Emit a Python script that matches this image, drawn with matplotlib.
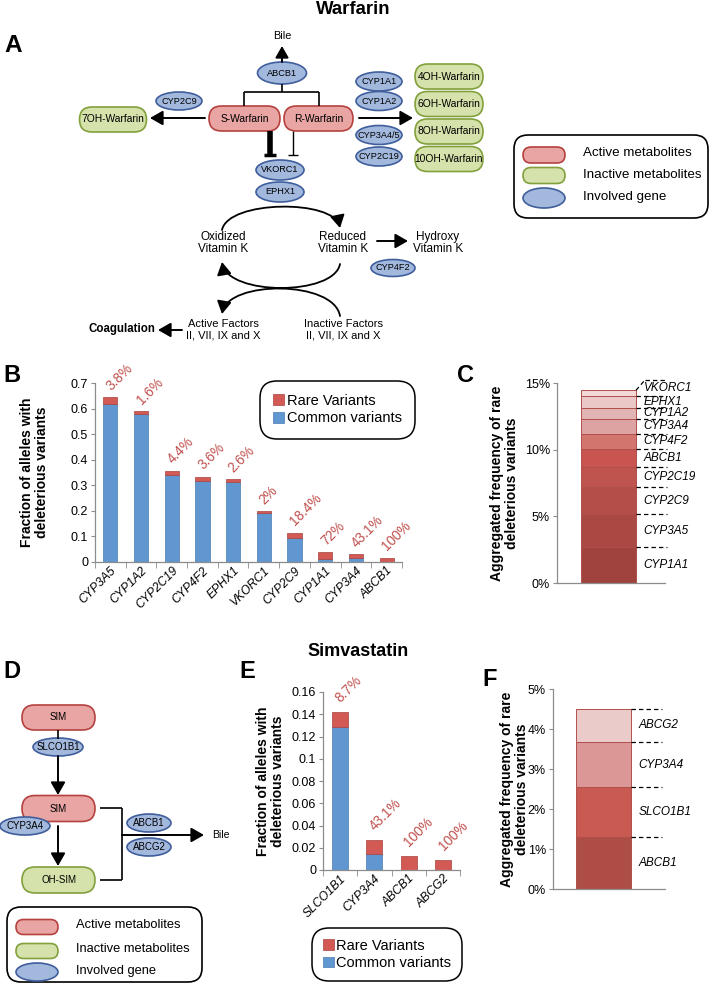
import matplotlib
matplotlib.use("Agg")
import matplotlib.pyplot as plt
from matplotlib import font_manager
from matplotlib.patches import FancyBboxPatch, Ellipse, FancyArrowPatch, Patch
from matplotlib.path import Path
import numpy as np

plt.rcParams['font.family'] = ['Liberation Sans', 'DejaVu Sans']
_names = {f.name for f in font_manager.fontManager.ttflist}
NARROW = 'Liberation Sans Narrow' if 'Liberation Sans Narrow' in _names else None
if NARROW:
    NF = [NARROW, 'Liberation Sans']; SC = 1.0
else:
    NF = ['Liberation Sans']; SC = 0.92

# ---------------- data ----------------
b_genes = ['CYP3A5', 'CYP1A2', 'CYP2C19', 'CYP4F2', 'EPHX1', 'VKORC1', 'CYP2C9', 'CYP1A1', 'CYP3A4', 'ABCB1']
b_common = [0.619, 0.578, 0.340, 0.317, 0.311, 0.191, 0.094, 0.010, 0.016, 0.000]
b_rare = [0.026, 0.013, 0.017, 0.017, 0.013, 0.008, 0.021, 0.028, 0.014, 0.017]
b_pct = ['3.8%', '1.6%', '4.4%', '3.6%', '2.6%', '2%', '18.4%', '72%', '43.1%', '100%']

c_genes = ['CYP1A1', 'CYP3A5', 'CYP2C9', 'CYP2C19', 'ABCB1', 'CYP4F2', 'CYP3A4', 'CYP1A2', 'EPHX1', 'VKORC1']
c_vals = [2.69, 2.49, 2.00, 1.49, 1.35, 1.19, 1.10, 0.85, 0.84, 0.45]

e_genes = ['SLCO1B1', 'CYP3A4', 'ABCB1', 'ABCG2']
e_common = [0.1286, 0.0144, 0.0, 0.0]
e_rare = [0.0134, 0.0125, 0.0129, 0.0087]
e_pct = ['8.7%', '43.1%', '100%', '100%']

f_genes = ['ABCB1', 'SLCO1B1', 'CYP3A4', 'ABCG2']
f_vals = [1.29, 1.25, 1.14, 0.82]

# ---------------- styles ----------------
BLUE, BLUE_E = '#6097D0', '#4A7AB0'
RED, RED_E = '#D35A54', '#A8413D'
PCT_C = '#C0504D'
SPINE = '#8C8C8C'
c_colors = ['#A0423D', '#AA4843', '#B44E48', '#BE544D', '#C8554F', '#D2756F',
            '#DCA3A2', '#E2B4B3', '#EAC8C7', '#F2D9D8']
f_colors = ['#AE4C46', '#C85A52', '#DA9795', '#EBCACA']
KIND = {'act': ('#E8A5A3', '#B5423F'), 'inact': ('#D6E2AB', '#82A03C'),
        'gene': ('#A3B8DD', '#3F5E9B')}

fig = plt.figure(figsize=(7.10, 9.92), dpi=100)
ov = fig.add_axes([0, 0, 1, 1], zorder=0)
ov.set_xlim(0, 710); ov.set_ylim(992, 0); ov.axis('off')


def rbox(cx, cy, w, h, kind, text, fs, fam=None):
    fc, ec = KIND[kind]
    ov.add_patch(FancyBboxPatch((cx - w / 2, cy - h / 2), w, h,
                                boxstyle=f"round,pad=0,rounding_size={h/2}",
                                fc=fc, ec=ec, lw=1.2))
    if text:
        ov.text(cx, cy, text, ha='center', va='center', fontsize=fs,
                family=fam if fam else plt.rcParams['font.family'])


def gene(cx, cy, w, h, text, fs, fam=None):
    fc, ec = KIND['gene']
    ov.add_patch(Ellipse((cx, cy), w, h, fc=fc, ec=ec, lw=1.2))
    if text:
        ov.text(cx, cy, text, ha='center', va='center', fontsize=fs,
                family=fam if fam else plt.rcParams['font.family'])


def arrow(x0, y0, x1, y1, lw=1.4, ms=11):
    ov.annotate('', xy=(x1, y1), xytext=(x0, y0),
                arrowprops=dict(arrowstyle='-|>,head_length=0.7,head_width=0.4',
                                color='k', lw=lw, mutation_scale=ms,
                                shrinkA=0, shrinkB=0))


def curve(p0, c1, c2, p3):
    path = Path([p0, c1, c2, p3], [Path.MOVETO, Path.CURVE4, Path.CURVE4, Path.CURVE4])
    ov.add_patch(FancyArrowPatch(path=path,
                                 arrowstyle='-|>,head_length=0.7,head_width=0.4',
                                 mutation_scale=11, lw=1.3, color='k'))


def line(xs, ys, lw=1.2):
    ov.plot(xs, ys, color='k', lw=lw, solid_capstyle='butt')


# ---------------- Panel A ----------------
ov.text(353, 10, 'Warfarin', ha='center', va='center', fontsize=14 * SC + 0.5,
        fontweight='bold', family=NF)
ov.text(13, 46, 'A', ha='center', va='center', fontsize=18 * SC + 1, fontweight='bold', family=NF)
gfs = 7.2 * SC
bfs = 8 * SC
ov.text(282, 36, 'Bile', ha='center', va='center', fontsize=8.5 * SC, family=NF)
arrow(282, 62, 282, 46, ms=10)
gene(282, 73, 49, 22, 'ABCB1', gfs, NF)
line([282, 282], [84, 92]); line([244, 319], [92, 92])
line([244, 244], [92, 106]); line([319, 319], [92, 106])
rbox(244.5, 118.5, 71, 25, 'act', 'S-Warfarin', bfs, NF)
rbox(318.5, 118.5, 69, 25, 'act', 'R-Warfarin', bfs, NF)
gene(179, 101, 46, 18, 'CYP2C9', gfs, NF)
rbox(113, 119.5, 67, 25, 'inact', '7OH-Warfarin', bfs, NF)
arrow(205, 118, 150, 118)
arrow(359, 118, 413, 118)
for yy, t in zip([81.5, 101, 135, 156.5], ['CYP1A1', 'CYP1A2', 'CYP3A4/5', 'CYP2C19']):
    gene(379, yy, 46, 19, t, gfs, NF)
for yy, t in zip([76.5, 104, 131.5, 159], ['4OH-Warfarin', '6OH-Warfarin', '8OH-Warfarin', '10OH-Warfarin']):
    rbox(449, yy, 68, 25, 'inact', t, bfs, NF)
line([270, 270], [131, 154], lw=4)
line([264, 276], [155, 155], lw=2.5)
line([293, 293], [131, 155], lw=1)
line([288, 298], [155, 155], lw=1)
gene(280, 170, 48, 20, 'VKORC1', gfs, NF)
gene(280, 192, 48, 20, 'EPHX1', gfs, NF)
# vitamin K cycle
curve((222, 230), (228, 200), (334, 199), (340, 228))
curve((340, 264), (334, 296), (228, 296), (222, 262))
curve((340, 316), (334, 280), (228, 280), (222, 314))
vfs = 9.2 * SC
ov.text(223, 243, 'Oxidized\nVitamin K', ha='center', va='center', fontsize=vfs, family=NF, linespacing=1.1)
ov.text(343, 243, 'Reduced\nVitamin K', ha='center', va='center', fontsize=vfs, family=NF, linespacing=1.1)
ov.text(438, 243, 'Hydroxy\nVitamin K', ha='center', va='center', fontsize=vfs, family=NF, linespacing=1.1)
arrow(377, 241, 408, 241)
gene(393, 268, 44, 17, 'CYP4F2', gfs, NF)
ov.text(223, 330, 'Active Factors\nII, VII, IX and X', ha='center', va='center', fontsize=8, linespacing=1.15)
ov.text(343, 330, 'Inactive Factors\nII, VII, IX and X', ha='center', va='center', fontsize=8, linespacing=1.15)
ov.text(155, 329, 'Coagulation', ha='right', va='center', fontsize=8.3, fontweight='bold')
arrow(182, 330, 158, 330)
# legend A
ov.add_patch(FancyBboxPatch((514, 135), 194, 83, boxstyle="round,pad=0,rounding_size=14",
                            fc='white', ec='k', lw=1.2))
rbox(544, 155, 42, 16, 'act', '', 8)
rbox(544, 175.5, 42, 16, 'inact', '', 8)
gene(544, 198, 42, 20, '', 8)
lfs = 10.5 * SC
ov.text(583, 153, 'Active metabolites', ha='left', va='center', fontsize=lfs, family=NF)
ov.text(583, 175, 'Inactive metabolites', ha='left', va='center', fontsize=lfs, family=NF)
ov.text(583, 197, 'Involved gene', ha='left', va='center', fontsize=lfs, family=NF)

# ---------------- Panel D ----------------
ov.text(12, 672, 'D', ha='center', va='center', fontsize=17, fontweight='bold')
rbox(58.5, 717.5, 73, 25, 'act', 'SIM', 7)
line([58, 58], [730, 739])
gene(58, 747, 50, 18, 'SLCO1B1', 7)
arrow(58, 756, 58, 795)
rbox(58.5, 808.5, 73, 26, 'act', 'SIM', 7)
arrow(58, 826, 58, 866)
gene(25, 826, 50, 18, 'CYP3A4', 7)
rbox(58.5, 880, 73, 26, 'inact', 'OH-SIM', 7)
line([100, 122], [808, 808]); line([122, 122], [808, 880]); line([100, 122], [880, 880])
arrow(122, 835, 204, 835)
gene(149, 823, 44, 18, 'ABCB1', 7)
gene(149, 847, 44, 18, 'ABCG2', 7)
ov.text(212, 835, 'Bile', ha='left', va='center', fontsize=7.5)
ov.add_patch(FancyBboxPatch((7, 907), 195, 75, boxstyle="round,pad=0,rounding_size=14",
                            fc='white', ec='k', lw=1.2))
rbox(37, 927, 42, 15, 'act', '', 8)
rbox(37, 951, 42, 15, 'inact', '', 8)
gene(37, 972, 42, 18, '', 8)
ov.text(76, 925, 'Active metabolites', ha='left', va='center', fontsize=9.3)
ov.text(76, 949, 'Inactive metabolites', ha='left', va='center', fontsize=9.3)
ov.text(76, 971, 'Involved gene', ha='left', va='center', fontsize=9.3)

# panel letters and simvastatin title
ov.text(12, 375, 'B', ha='center', va='center', fontsize=17, fontweight='bold')
ov.text(465, 375, 'C', ha='center', va='center', fontsize=17, fontweight='bold')
ov.text(247, 672, 'E', ha='center', va='center', fontsize=17, fontweight='bold')
ov.text(490, 680, 'F', ha='center', va='center', fontsize=17, fontweight='bold')
ov.text(358, 652, 'Simvastatin', ha='center', va='center', fontsize=13, fontweight='bold')


def px_axes(x0, y0, x1, y1):
    return fig.add_axes([x0 / 710, (992 - y1) / 992, (x1 - x0) / 710, (y1 - y0) / 992],
                        zorder=2, facecolor='none')


def style_bar_axes(ax, n, ymax, step, fmt):
    for s in ['top', 'right']:
        ax.spines[s].set_visible(False)
    for s in ['left', 'bottom']:
        ax.spines[s].set_color(SPINE)
        ax.spines[s].set_linewidth(0.9)
    ax.set_xlim(-0.5, n - 0.5)
    ax.set_ylim(0, ymax)
    ax.set_yticks(np.arange(0, ymax + 1e-9, step))
    ax.set_yticklabels([fmt(v) for v in np.arange(0, ymax + 1e-9, step)])
    ax.tick_params(axis='y', length=3, color=SPINE, labelsize=9, pad=2)
    ax.set_xticks(np.arange(-0.5, n, 1.0), minor=True)
    ax.tick_params(axis='x', which='minor', length=4, color=SPINE)
    ax.tick_params(axis='x', which='major', length=0, labelsize=8.7, pad=2)


def stacked(ax, genes, common, rare, pct, off):
    x = np.arange(len(genes))
    ax.bar(x, common, width=0.46, color=BLUE, edgecolor=BLUE_E, lw=0.5, label='Common variants')
    ax.bar(x, rare, bottom=common, width=0.46, color=RED, edgecolor=RED_E, lw=0.5, label='Rare Variants')
    ax.set_xticks(x)
    ax.set_xticklabels(genes, rotation=45, ha='right', rotation_mode='anchor', style='italic')
    for i, (c, r, p) in enumerate(zip(common, rare, pct)):
        ax.annotate(p, xy=(i, c + r), xytext=off, textcoords='offset points',
                    rotation=45, rotation_mode='anchor', ha='left', va='bottom',
                    color=PCT_C, fontsize=9.8)


def legend(ax, anchor, fs, bpad):
    h = [Patch(fc=RED, ec=RED_E, lw=0.5), Patch(fc=BLUE, ec=BLUE_E, lw=0.5)]
    lg = ax.legend(h, ['Rare Variants', 'Common variants'], loc='upper left',
                   bbox_to_anchor=anchor, bbox_transform=fig.transFigure,
                   fontsize=fs, handlelength=0.75, handleheight=0.75, handletextpad=0.2,
                   labelspacing=0.25, borderpad=bpad, borderaxespad=0, frameon=True,
                   fancybox=True, framealpha=1)
    fr = lg.get_frame()
    fr.set_edgecolor('k'); fr.set_linewidth(1.1)
    fr.set_boxstyle('round', pad=0.3, rounding_size=1.2)


# ---------------- Panel B ----------------
axB = px_axes(95, 383, 402, 562)
style_bar_axes(axB, len(b_genes), 0.7, 0.1, lambda v: '0' if v == 0 else f'{v:.1f}')
stacked(axB, b_genes, b_common, b_rare, b_pct, (2, 3))
axB.set_ylabel('Fraction of alleles with\ndeleterious variants', fontsize=10,
               fontweight='bold', linespacing=1.1)
axB.yaxis.set_label_coords(-0.15, 0.5)
legend(axB, (264 / 710, 1 - 385 / 992), 10.5, 0.6)


def agg(ax, genes, vals, colors, ymax, step, top_shift):
    for s in ['top', 'right']:
        ax.spines[s].set_visible(False)
    for s in ['left', 'bottom']:
        ax.spines[s].set_color(SPINE)
        ax.spines[s].set_linewidth(0.9)
    bottoms = np.concatenate([[0], np.cumsum(vals)[:-1]])
    tops = np.cumsum(vals)
    ax.bar(np.zeros(len(vals)), vals, bottom=bottoms, width=1.0, color=colors,
           edgecolor='#B0504B', lw=0.7)
    ax.set_xlim(-0.94, 1.03)
    ax.set_ylim(0, ymax)
    ticks = np.arange(0, ymax + 1e-9, step)
    ax.set_yticks(ticks)
    ax.set_yticklabels([f'{t:.0f}%' for t in ticks])
    ax.set_xticks([])
    ax.tick_params(axis='y', length=3, color=SPINE, labelsize=9, pad=2)
    marks = tops.copy()
    marks[-1] = tops[-1] + top_shift
    kw = dict(color='k', lw=0.9, ls=(0, (3.5, 2.5)), clip_on=False)
    for m in marks:
        ax.plot([0.5 + (0.17 if top_shift else 0) * (m == marks[-1]), 1.06], [m, m], **kw)
    if top_shift:
        ax.plot([0.5, 0.67], [tops[-1], marks[-1]], **kw)
    lows = np.concatenate([[0], marks[:-1]])
    for g, lo, hi in zip(genes, lows, marks):
        ax.text(0.64, (lo + hi) / 2, g, ha='left', va='center', fontsize=8.5,
                style='italic', clip_on=False)


# ---------------- Panel C ----------------
axC = px_axes(557, 383, 665, 583)
agg(axC, c_genes, c_vals, c_colors, 15, 5, 0.8)
axC.set_ylabel('Aggregated frequency of rare\ndeleterious variants', fontsize=10,
               fontweight='bold', linespacing=1.1)
axC.yaxis.set_label_coords(-0.35, 0.5)

# ---------------- Panel E ----------------
axE = px_axes(323, 692, 460, 870)
style_bar_axes(axE, len(e_genes), 0.16, 0.02,
               lambda v: '0' if v == 0 else (f'{v:.2f}'.rstrip('0') if v != 0.1 else '0.1'))
stacked(axE, e_genes, e_common, e_rare, e_pct, (2, 5))
axE.set_ylabel('Fraction of alleles with\ndeleterious variants', fontsize=10,
               fontweight='bold', linespacing=1.1)
axE.yaxis.set_label_coords(-0.275, 0.5)
legend(axE, (316 / 710, 1 - 932 / 992), 10.5, 0.45)

# ---------------- Panel F ----------------
axF = px_axes(553, 689, 665, 889)
agg(axF, f_genes, f_vals, f_colors, 5, 1, 0.0)
axF.set_xlim(-0.92, 1.12)
axF.set_ylabel('Aggregated frequency of rare\ndeleterious variants', fontsize=10,
               fontweight='bold', linespacing=1.1)
axF.yaxis.set_label_coords(-0.215, 0.5)

fig.savefig('out.png', dpi=100)
